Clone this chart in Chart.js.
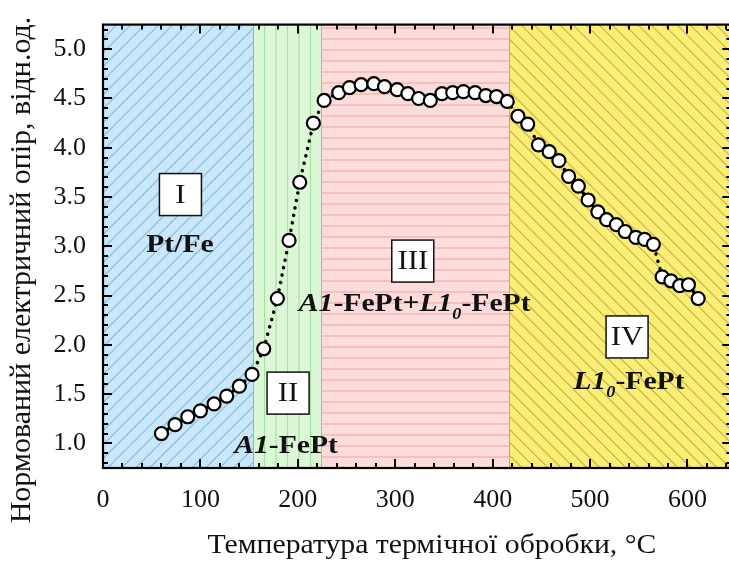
<!DOCTYPE html>
<html><head><meta charset="utf-8">
<script src="https://cdn.jsdelivr.net/npm/chart.js@4/dist/chart.umd.min.js"></script>
<style>html,body{margin:0;padding:0;overflow:hidden;background:#fff}#wrap{width:740px;height:561px}</style>
</head><body><div id="wrap"><canvas id="c" width="740" height="561"></canvas></div>
<script>
// ---- data ----
const temperatures = [60,74,87,100,114,127,140,153,165,179,191,202,216,227,242,253,265,278,289,302,313,324,336,348,359,370,382,393,404,415,426,436,447,458,468,478,488,498,508,517,527,536,547,556,565,574,583,592,601,611];
const resistance   = [1.10,1.19,1.27,1.33,1.40,1.48,1.58,1.70,1.96,2.47,3.06,3.65,4.25,4.48,4.56,4.61,4.64,4.65,4.62,4.59,4.55,4.50,4.48,4.55,4.56,4.57,4.56,4.53,4.52,4.47,4.32,4.24,4.03,3.96,3.87,3.71,3.61,3.47,3.35,3.27,3.22,3.15,3.09,3.07,3.02,2.69,2.65,2.60,2.61,2.47];
const xTickValues = [0,100,200,300,400,500,600];
const yTickValues = [1.0,1.5,2.0,2.5,3.0,3.5,4.0,4.5,5.0];
const zoneBounds = [0,154,224,417,645];
const zoneNumerals = ['I','II','III','IV'];
const xTitle = 'Температура термічної обробки, °C';
const yTitle = 'Нормований електричний опір, відн.од.';

const SERIF = "'Liberation Serif','Times New Roman',serif";
const zoneStyles = [
  {bg:'#c9e7f8', line:'#86c0e6', kind:'slash', gap:14},
  {bg:'#dcf7d6', line:'#a9dea2', kind:'vert', gap:11.5},
  {bg:'#fddcdc', line:'#f0a4a6', kind:'horiz', gap:11},
  {bg:'#faee74', line:'#cdb24e', kind:'back', gap:13}
];
// annotation placement (data units)
const annotations = [
  {num:'I',   bx:79.5, by:3.525, tx:79,  ty:3.03, text:[{t:'Pt/Fe'}]},
  {num:'II',  bx:190,  by:1.51,  tx:188, ty:0.99, text:[{t:'A1',i:1},{t:'-FePt'}]},
  {num:'III', bx:318,  by:2.85,  tx:320, ty:2.43, text:[{t:'A1',i:1},{t:'-FePt+'},{t:'L1',i:1},{t:'0',i:1,sub:1},{t:'-FePt'}]},
  {num:'IV',  bx:538,  by:2.08,  tx:540, ty:1.64, text:[{t:'L1',i:1},{t:'0',i:1,sub:1},{t:'-FePt'}]}
];
const STRETCH = 1.14;

const zonesPlugin = {
  id:'zones',
  beforeDatasetsDraw(chart){
    const {ctx, chartArea:a, scales:{x}} = chart;
    for (let i=0;i<zoneStyles.length;i++){
      const s = zoneStyles[i];
      const x0 = x.getPixelForValue(zoneBounds[i]);
      const x1 = x.getPixelForValue(zoneBounds[i+1]);
      ctx.save();
      ctx.beginPath(); ctx.rect(x0, a.top, x1-x0, a.bottom-a.top); ctx.clip();
      ctx.fillStyle = s.bg; ctx.fillRect(x0, a.top, x1-x0, a.bottom-a.top);
      ctx.strokeStyle = s.line; ctx.lineWidth = 1.2;
      ctx.beginPath();
      const H = a.bottom - a.top;
      if (s.kind==='vert'){
        for (let xx=x0; xx<x1; xx+=s.gap){ ctx.moveTo(xx,a.top); ctx.lineTo(xx,a.bottom); }
      } else if (s.kind==='horiz'){
        for (let yy=a.bottom; yy>a.top; yy-=s.gap){ ctx.moveTo(x0,yy); ctx.lineTo(x1,yy); }
      } else if (s.kind==='slash'){
        for (let xx=x0-H; xx<x1; xx+=s.gap){ ctx.moveTo(xx,a.bottom); ctx.lineTo(xx+H,a.top); }
      } else {
        for (let xx=x0-H; xx<x1+H; xx+=s.gap){ ctx.moveTo(xx,a.top); ctx.lineTo(xx+H,a.bottom); }
      }
      ctx.stroke();
      ctx.restore();
    }
    ctx.save();
    const bcol = ['#7fbfb0','#e59a9a','#c8a850'];
    for (let i=1;i<zoneBounds.length-1;i++){
      const xx = Math.round(x.getPixelForValue(zoneBounds[i]))+0.5;
      ctx.strokeStyle = bcol[i-1]; ctx.lineWidth = 1;
      ctx.beginPath(); ctx.moveTo(xx,a.top); ctx.lineTo(xx,a.bottom); ctx.stroke();
    }
    ctx.restore();
    // annotations
    ctx.save();
    const {y} = chart.scales;
    for (const an of annotations){
      const bx = x.getPixelForValue(an.bx), by = y.getPixelForValue(an.by);
      ctx.fillStyle='#fff'; ctx.strokeStyle='#111'; ctx.lineWidth=1.5;
      ctx.fillRect(bx-21, by-21, 42, 42); ctx.strokeRect(bx-21, by-21, 42, 42);
      ctx.fillStyle='#111'; ctx.font = '27px '+SERIF; ctx.textAlign='center'; ctx.textBaseline='middle';
      ctx.save(); ctx.translate(bx, by+1); ctx.scale(STRETCH,1); ctx.fillText(an.num, 0, 0); ctx.restore();
      const tx = x.getPixelForValue(an.tx), ty = y.getPixelForValue(an.ty);
      const fontFor = seg => (seg.i?'italic ':'')+'bold '+(seg.sub?'16px ':'26px ')+SERIF;
      let w = 0;
      for (const seg of an.text){ ctx.font = fontFor(seg); w += ctx.measureText(seg.t).width; }
      ctx.save(); ctx.translate(tx, ty); ctx.scale(STRETCH,1);
      let cx = -w/2;
      ctx.textAlign='left'; ctx.textBaseline='alphabetic';
      for (const seg of an.text){
        ctx.font = fontFor(seg);
        ctx.fillText(seg.t, cx, 9 + (seg.sub?8:0));
        cx += ctx.measureText(seg.t).width;
      }
      ctx.restore();
    }
    ctx.restore();
  },
  afterDatasetsDraw(chart){
    const {ctx, chartArea:a, scales:{x,y}} = chart;
    ctx.save();
    ctx.strokeStyle='#000'; ctx.lineWidth=2;
    ctx.beginPath();
    for (let v=0; v<=x.max+0.001; v+=20){
      const px = Math.round(x.getPixelForValue(v));
      const len = (v%100===0)?9:5;
      ctx.moveTo(px,a.bottom); ctx.lineTo(px,a.bottom-len);
      ctx.moveTo(px,a.top); ctx.lineTo(px,a.top+len);
    }
    for (let k=8; k<=52; k++){
      const py = Math.round(y.getPixelForValue(k/10));
      const len = (k%5===0)?9:5;
      ctx.moveTo(a.left,py); ctx.lineTo(a.left+len,py);
      ctx.moveTo(a.right,py); ctx.lineTo(a.right-len,py);
    }
    ctx.stroke();
    ctx.lineWidth=2.2;
    ctx.strokeRect(a.left, a.top, a.right-a.left, a.bottom-a.top);
    // axis titles
    ctx.fillStyle='#111'; ctx.textAlign='center'; ctx.textBaseline='middle';
    ctx.font = '30px '+SERIF;
    ctx.save(); ctx.translate(22, 270); ctx.rotate(-Math.PI/2); ctx.fillText(yTitle, 0, 0); ctx.restore();
    ctx.font = '27px '+SERIF;
    ctx.save(); ctx.translate(432, 546); ctx.scale(1.1,1); ctx.fillText(xTitle, 0, 0); ctx.restore();
    ctx.restore();
  }
};

new Chart(document.getElementById('c'), {
  type:'line',
  data:{ datasets:[{
    data: temperatures.map((t,i)=>({x:t, y:resistance[i]})),
    borderColor:'#000', borderWidth:3.5, borderDash:[0.1,7.5], borderCapStyle:'round',
    pointRadius:6.5, pointBorderWidth:2.2, pointBackgroundColor:'#fff', pointBorderColor:'#000',
    tension:0, fill:false
  }]},
  options:{
    responsive:false, devicePixelRatio:1, animation:false,
    layout:{padding:{top:15, right:8, left:0, bottom:0}},
    plugins:{legend:{display:false}, tooltip:{enabled:false}},
    scales:{
      x:{type:'linear', min:0, max:645,
        grid:{display:false}, border:{display:false},
        afterBuildTicks: s => { s.ticks = xTickValues.map(v=>({value:v})); },
        afterFit: s => { s.height = 93; },
        ticks:{font:{family:SERIF, size:26}, color:'#111', padding:9, maxRotation:0, autoSkip:false}
      },
      y:{type:'linear', min:0.75, max:5.25,
        grid:{display:false}, border:{display:false},
        afterBuildTicks: s => { s.ticks = yTickValues.map(v=>({value:v})); },
        afterFit: s => { s.width = 103; },
        ticks:{font:{family:SERIF, size:26}, color:'#111', padding:9, callback:v=>Number(v).toFixed(1)}
      }
    }
  },
  plugins:[zonesPlugin]
});
</script></body></html>
